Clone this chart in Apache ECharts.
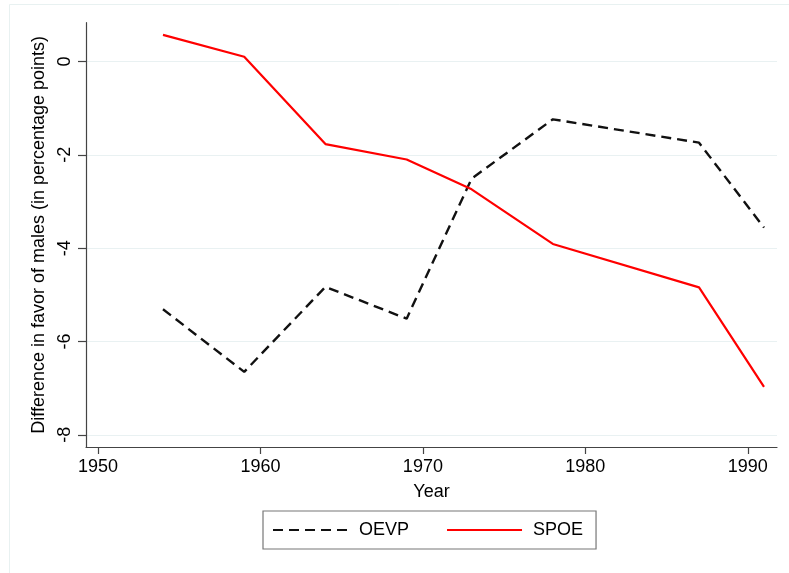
<!DOCTYPE html>
<html>
<head>
<meta charset="utf-8">
<script src="https://cdn.jsdelivr.net/npm/echarts@6/dist/echarts.min.js"></script>
<style>
html,body{margin:0;padding:0;background:#fff;}
#c{width:789px;height:573px;}
</style>
</head>
<body>
<div id="c"></div>
<script>
const years = [1954, 1959, 1964, 1969, 1973, 1978, 1987, 1991];
const oevp = [-5.31, -6.65, -4.83, -5.51, -2.51, -1.24, -1.74, -3.56];
const spoe = [0.57, 0.10, -1.77, -2.10, -2.74, -3.91, -4.84, -6.97];
const xTicks = [1950, 1960, 1970, 1980, 1990];
const yTicks = [-8, -6, -4, -2, 0];
const seriesNames = ['OEVP', 'SPOE'];
const xTitle = 'Year';
const yTitle = 'Difference in favor of males (in percentage points)';

const FONT = 'Liberation Sans, Arial, Helvetica, sans-serif';
const chart = echarts.init(document.getElementById('c'), null, {renderer: 'canvas'});
const axisColor = '#444';
chart.setOption({
  animation: false,
  backgroundColor: '#fff',
  textStyle: {fontFamily: FONT},
  graphic: [{
    type: 'rect', left: 7, top: 2, silent: true,
    shape: {width: 800, height: 600},
    style: {fill: 'none', stroke: '#e8f1f1', lineWidth: 1}
  }],
  grid: {left: 86, right: 12, top: 22.7, bottom: 126, containLabel: false},
  xAxis: {
    type: 'value', min: 1949.26, max: 1991.8,
    name: xTitle, nameLocation: 'middle', nameGap: 36,
    nameTextStyle: {fontSize: 18, color: '#000', fontFamily: FONT},
    axisLine: {show: true, onZero: false, lineStyle: {color: axisColor, width: 1.2}},
    axisTick: {show: true, length: 7, customValues: xTicks, lineStyle: {color: axisColor, width: 1.2}},
    axisLabel: {customValues: xTicks, fontSize: 18, color: '#000', margin: 11, fontFamily: FONT,
      formatter: v => String(v)},
    splitLine: {show: false}
  },
  yAxis: {
    type: 'value', min: -8.26, max: 0.83,
    name: yTitle, nameLocation: 'middle', nameGap: 35, nameRotate: 90,
    nameTextStyle: {fontSize: 18, color: '#000', fontFamily: FONT},
    axisLine: {show: true, onZero: false, lineStyle: {color: axisColor, width: 1.2}},
    axisTick: {show: true, length: 8, customValues: yTicks, lineStyle: {color: axisColor, width: 1.2}},
    axisLabel: {customValues: yTicks, rotate: 90, fontSize: 18, color: '#000', margin: 12, fontFamily: FONT},
    splitLine: {show: true, lineStyle: {color: '#e9f1f2', width: 1.2}}
  },
  legend: {
    left: 263, top: 511,
    data: seriesNames,
    itemWidth: 75, itemHeight: 14, itemGap: 37,
    padding: [10, 13, 10, 9],
    borderColor: '#777', borderWidth: 1.2, borderRadius: 0,
    itemStyle: {opacity: 0},
    textStyle: {fontSize: 18, color: '#000', fontFamily: FONT, padding: [0, 0, 0, 6]}
  },
  series: [
    {
      name: seriesNames[0], type: 'line', symbol: 'none', smooth: false,
      data: years.map((y, i) => [y, oevp[i]]),
      lineStyle: {color: '#111', width: 2.4, type: [10, 6]},
      itemStyle: {color: '#111'}
    },
    {
      name: seriesNames[1], type: 'line', symbol: 'none', smooth: false,
      data: years.map((y, i) => [y, spoe[i]]),
      lineStyle: {color: '#ff0000', width: 2.2},
      itemStyle: {color: '#ff0000'}
    }
  ]
});
</script>
</body>
</html>
